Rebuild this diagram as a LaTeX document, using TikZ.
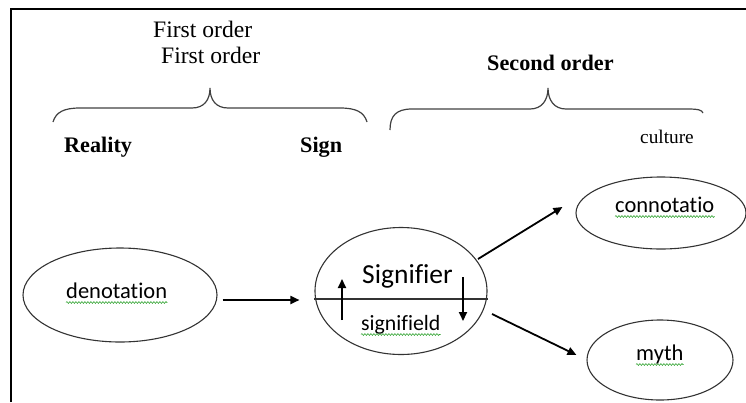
\documentclass[tikz,border=0pt]{standalone}
\usepackage{fontspec}
\setmainfont{Liberation Serif}
\newfontfamily\calibri[Ligatures={NoCommon}]{Carlito}
\usetikzlibrary{shapes.geometric,arrows.meta,calc,decorations.pathmorphing}

\tikzset{
  oval/.style={ellipse, draw=black!80, line width=1.1pt, inner sep=0pt},
  arr/.style={line width=1.8pt, -{Triangle[length=9pt,width=8pt]}},
  brace/.style={draw=black!75, line width=1.2pt},
  serif/.style={anchor=base west, inner sep=0pt, font=\fontsize{23.6}{28}\selectfont},
  serifb/.style={serif, font=\fontsize{22.2}{26}\selectfont\bfseries},
  sans/.style={anchor=base west, inner sep=0pt, font=\calibri\fontsize{22.5}{27}\selectfont},
  squiggle/.style={draw=green!55!black!80, line width=0.6pt,
    decorate, decoration={snake, amplitude=0.9pt, segment length=3pt}}
}

\begin{document}
\begin{tikzpicture}[x=1pt, y=-1pt]
\useasboundingbox (0,0) rectangle (746,402);

% outer frame (top and left rules)
\draw[line width=1.6pt] (11,402) -- (11,9) -- (746,9);

% headings
\node[serif] (fo1) at (153,37) {First order};
\node[serif] (fo2) at (161,63) {First order};
\node[serifb] (so) at (487,70) {Second order};
\node[serifb] (real) at (64,152) {Reality};
\node[serifb] (sgn) at (300,152) {Sign};
\node[serif, font=\fontsize{19.3}{23}\selectfont] (cult) at (640,143) {culture};

% braces
\draw[brace] (53,122) .. controls (56,112) and (64,108) .. (80,108)
  -- (192,108) .. controls (204,108) and (210,100) .. (210,88)
  .. controls (210,100) and (216,108) .. (228,108)
  -- (340,108) .. controls (356,108) and (364,112) .. (367,122);
\draw[brace] (390,130) .. controls (390,116) and (396,109) .. (412,109)
  -- (530,109) .. controls (542,109) and (548,100) .. (548,88)
  .. controls (548,100) and (554,109) .. (566,109)
  -- (688,109) .. controls (698,109) and (702,110) .. (703,113);

% ellipses
\node[oval, minimum width=194pt, minimum height=94pt] (den) at (120,295) {};
\node[oval, minimum width=172pt, minimum height=127pt] (sig) at (401,291) {};
\node[oval, minimum width=170pt, minimum height=72pt] (con) at (661,213) {};
\node[oval, minimum width=146pt, minimum height=80pt] (myth) at (660,360) {};

% dividing line of the sign
\draw[line width=1.1pt, black!80] (sig.west |- 0,299) -- (sig.east |- 0,299);

% labels
\node[sans] (dent) at (66,298) {denotation};
\node[sans, font=\calibri\fontsize{27.5}{32}\selectfont] (sigt) at (362,283) {Signifier};
\node[sans, font=\calibri\fontsize{21.8}{26}\selectfont] (sfd) at (361,330) {signifield};
\node[sans] (cont) at (615,212) {connotatio};
\node[sans] (myt) at (636,360) {myth};

% spelling marks
\foreach \t in {dent,sfd,cont,myt}
  \draw[squiggle] ($(\t.base west)+(0,4.5)$) -- ($(\t.base east)+(0,4.5)$);

% connectors
\draw[arr] ($(den.east)+(5,5)$) -- ($(sig.west)+(-15,9)$);
\draw[arr] ($(sig)+(-59,29)$) -- ($(sig)+(-59,-12)$);
\draw[arr] ($(sig)+(62,-14)$) -- ($(sig)+(62,30)$);
\draw[arr] ($(sig)+(77,-32)$) -- ($(con.west)+(-13,-6)$);
\draw[arr] ($(sig)+(91,23)$) -- ($(myth.west)+(-10,-5)$);
\end{tikzpicture}
\end{document}
